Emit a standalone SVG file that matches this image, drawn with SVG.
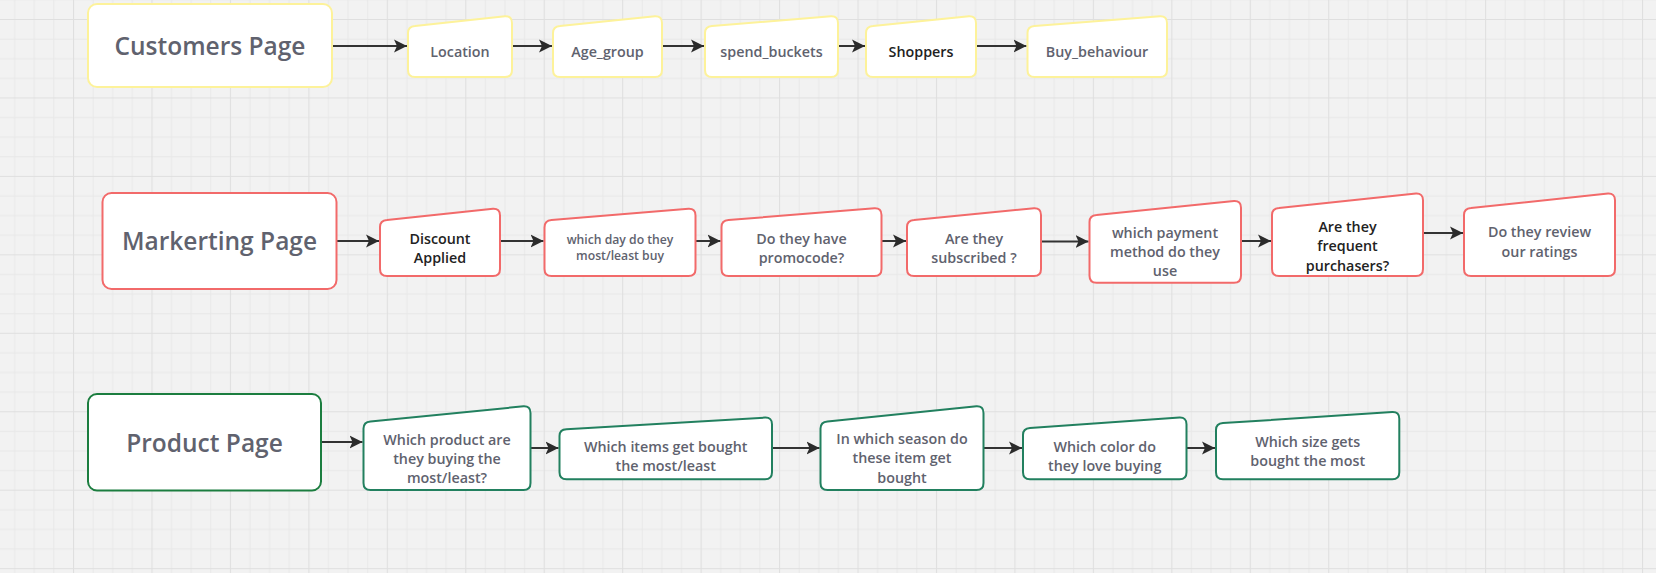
<svg xmlns="http://www.w3.org/2000/svg" width="1656" height="573" viewBox="0 0 1656 573">
<defs>
<pattern id="grid" patternUnits="userSpaceOnUse" x="73" y="19" width="78.45" height="78.45">
<path d="M20.1 0V78.45M39.7 0V78.45M59.3 0V78.45M0 20.1H78.45M0 39.7H78.45M0 59.3H78.45" stroke="#e8e8e8" stroke-width="1" fill="none"/>
<path d="M0.5 0V78.45M0 0.5H78.45" stroke="#dfdfdf" stroke-width="1.2" fill="none"/>
</pattern>
<marker id="ah" markerUnits="userSpaceOnUse" markerWidth="14" markerHeight="14" refX="13" refY="7" orient="auto" viewBox="0 0 14 14">
<path d="M0 0.5L13 7L0 13.5L3 7Z" fill="#2b2b2b"/>
</marker>
</defs>
<style>
.c{fill:none;stroke:#333;stroke-width:2;marker-end:url(#ah)}
.n{fill:#fff;stroke-width:2;stroke-linejoin:round}
.y{stroke:#fdf29a}
.r{stroke:#f26a6a}
.g{stroke:#1b7d3f}
.t{stroke:#22805f}
text{font-family:"Open Sans","Noto Sans","Liberation Sans",sans-serif;font-weight:600;text-anchor:middle;fill:#60626e}
.big{font-size:24.5px}
.m{font-size:14.3px}
.s{font-size:12.2px}
.d{fill:#222}
</style>
<rect width="1656" height="573" fill="#f2f2f2"/>
<rect width="1656" height="573" fill="url(#grid)"/>

<g id="connectors">
<path class="c" d="M332 46H407"/>
<path class="c" d="M512 46H552"/>
<path class="c" d="M662 46H704"/>
<path class="c" d="M838 46H865"/>
<path class="c" d="M976 46H1026.5"/>
<path class="c" d="M336.5 241H379"/>
<path class="c" d="M500 241H543.5"/>
<path class="c" d="M695.5 241H720.5"/>
<path class="c" d="M881.5 241H906"/>
<path class="c" d="M1041 241.5H1088.5"/>
<path class="c" d="M1241 241H1271"/>
<path class="c" d="M1423 233H1463"/>
<path class="c" d="M321 442H362.5"/>
<path class="c" d="M530.5 448H558.5"/>
<path class="c" d="M772 448H819.5"/>
<path class="c" d="M983.5 448H1022"/>
<path class="c" d="M1186.5 448H1215"/>
</g>

<g id="customers-page">
<rect class="n y" x="88" y="4" width="244" height="83" rx="9"/>
<text class="big" x="210" y="55">Customers Page</text>
</g>
<g id="location">
<path class="n y" d="M408 33Q408 26.5 415 26L505 16.3Q512 16 512 23L512 70Q512 77 505 77L415 77Q408 77 408 70Z"/>
<text class="m" x="460" y="57">Location</text>
</g>
<g id="age-group">
<path class="n y" d="M553 33Q553 26.5 560 26L655 16.3Q662 16 662 23L662 70Q662 77 655 77L560 77Q553 77 553 70Z"/>
<text class="m" x="607.5" y="57">Age_group</text>
</g>
<g id="spend-buckets">
<path class="n y" d="M705 33Q705 26.5 712 26L831 16.3Q838 16 838 23L838 70Q838 77 831 77L712 77Q705 77 705 70Z"/>
<text class="m" x="771.5" y="57">spend_buckets</text>
</g>
<g id="shoppers">
<path class="n y" d="M866 33Q866 26.5 873 26L969 16.3Q976 16 976 23L976 70Q976 77 969 77L873 77Q866 77 866 70Z"/>
<text class="m d" x="921" y="57">Shoppers</text>
</g>
<g id="buy-behaviour">
<path class="n y" d="M1027.5 33Q1027.5 26.5 1034.5 26L1160 16.3Q1167 16 1167 23L1167 70Q1167 77 1160 77L1034.5 77Q1027.5 77 1027.5 70Z"/>
<text class="m" x="1097" y="57">Buy_behaviour</text>
</g>

<g id="marketing-page">
<rect class="n r" x="102.5" y="193" width="234" height="96" rx="9"/>
<text class="big" x="219.5" y="250">Markerting Page</text>
</g>
<g id="discount-applied">
<path class="n r" d="M380 227Q380 220.5 387 220L493 208.8Q500 208.5 500 215.5L500 269Q500 276 493 276L387 276Q380 276 380 269Z"/>
<text class="m d" x="440" y="243.5">Discount</text>
<text class="m d" x="440" y="262.5">Applied</text>
</g>
<g id="which-day">
<path class="n r" d="M544.5 227.5Q544.5 220.5 551.5 220L688.5 208.8Q695.5 208.5 695.5 215.5L695.5 269Q695.5 276 688.5 276L551.5 276Q544.5 276 544.5 269Z"/>
<text class="s" x="620" y="244">which day do they</text>
<text class="s" x="620" y="260">most/least buy</text>
</g>
<g id="promocode">
<path class="n r" d="M721.5 227Q721.5 220.5 728.5 220L874.5 208.3Q881.5 208 881.5 215L881.5 269Q881.5 276 874.5 276L728.5 276Q721.5 276 721.5 269Z"/>
<text class="m" x="801.5" y="243.5">Do they have</text>
<text class="m" x="801.5" y="262.5">promocode?</text>
</g>
<g id="subscribed">
<path class="n r" d="M907 227Q907 220.5 914 220L1034 208.3Q1041 208 1041 215L1041 269Q1041 276 1034 276L914 276Q907 276 907 269Z"/>
<text class="m" x="974" y="243.5">Are they</text>
<text class="m" x="974" y="262.5">subscribed ?</text>
</g>
<g id="payment-method">
<path class="n r" d="M1089.5 222Q1089.5 215.5 1096.5 215L1234 201Q1241 200.7 1241 207.7L1241 275.7Q1241 282.7 1234 282.7L1096.5 282.7Q1089.5 282.7 1089.5 275.7Z"/>
<text class="m" x="1165" y="237.5">which payment</text>
<text class="m" x="1165" y="256.5">method do they</text>
<text class="m" x="1165" y="276">use</text>
</g>
<g id="frequent-purchasers">
<path class="n r" d="M1272 215Q1272 208.5 1279 208L1416 193.6Q1423 193.3 1423 200.3L1423 269Q1423 276 1416 276L1279 276Q1272 276 1272 269Z"/>
<text class="m d" x="1347.5" y="231.7">Are they</text>
<text class="m d" x="1347.5" y="251">frequent</text>
<text class="m d" x="1347.5" y="270.7">purchasers?</text>
</g>
<g id="review-ratings">
<path class="n r" d="M1464 215Q1464 208.5 1471 208L1608 193.6Q1615 193.3 1615 200.3L1615 269Q1615 276 1608 276L1471 276Q1464 276 1464 269Z"/>
<text class="m" x="1539.5" y="237.3">Do they review</text>
<text class="m" x="1539.5" y="256.7">our ratings</text>
</g>

<g id="product-page">
<rect class="n g" x="88" y="394" width="233" height="96.5" rx="9"/>
<text class="big" x="204.5" y="451.7">Product Page</text>
</g>
<g id="which-product">
<path class="n t" d="M363.5 428.5Q363.5 422 370.5 421.4L523.5 406.3Q530.5 406 530.5 413L530.5 483Q530.5 490 523.5 490L370.5 490Q363.5 490 363.5 483Z"/>
<text class="m" x="447" y="445">Which product are</text>
<text class="m" x="447" y="464.3">they buying the</text>
<text class="m" x="447" y="483.3">most/least?</text>
</g>
<g id="which-items">
<path class="n t" d="M559.5 436Q559.5 429.5 566.5 429.2L765 417.6Q772 417.3 772 424.3L772 472.3Q772 479.3 765 479.3L566.5 479.3Q559.5 479.3 559.5 472.3Z"/>
<text class="m" x="665.7" y="451.7">Which items get bought</text>
<text class="m" x="665.7" y="470.7">the most/least</text>
</g>
<g id="which-season">
<path class="n t" d="M820.5 428.5Q820.5 422 827.5 421.4L976.5 406.3Q983.5 406 983.5 413L983.5 483Q983.5 490 976.5 490L827.5 490Q820.5 490 820.5 483Z"/>
<text class="m" x="902" y="444">In which season do</text>
<text class="m" x="902" y="463.3">these item get</text>
<text class="m" x="902" y="482.7">bought</text>
</g>
<g id="which-color">
<path class="n t" d="M1023 435Q1023 428.5 1030 428.1L1179.5 417.6Q1186.5 417.3 1186.5 424.3L1186.5 472.3Q1186.5 479.3 1179.5 479.3L1030 479.3Q1023 479.3 1023 472.3Z"/>
<text class="m" x="1104.7" y="451.7">Which color do</text>
<text class="m" x="1104.7" y="470.7">they love buying</text>
</g>
<g id="which-size">
<path class="n t" d="M1216 430Q1216 423.5 1223 423.1L1392.3 412Q1399.3 411.7 1399.3 418.7L1399.3 472.3Q1399.3 479.3 1392.3 479.3L1223 479.3Q1216 479.3 1216 472.3Z"/>
<text class="m" x="1307.7" y="446.7">Which size gets</text>
<text class="m" x="1307.7" y="466">bought the most</text>
</g>
</svg>
